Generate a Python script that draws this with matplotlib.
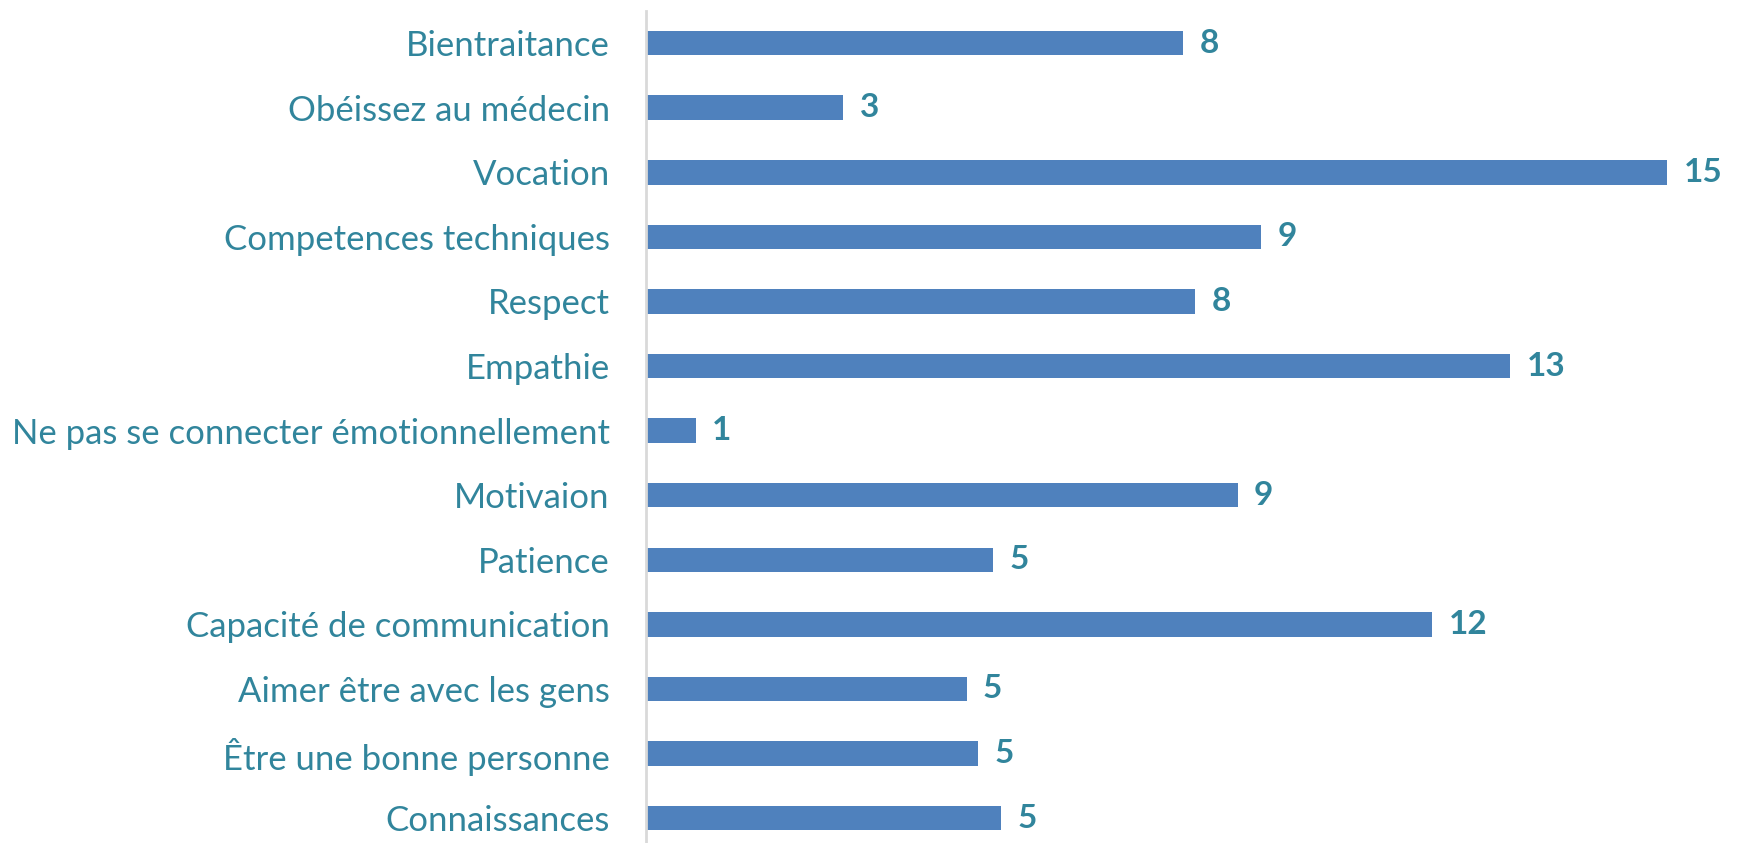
import matplotlib
matplotlib.use("Agg")
import matplotlib.pyplot as plt

# categories top to bottom
categories = ['Bientraitance', 'Obéissez au médecin', 'Vocation', 'Competences techniques',
              'Respect', 'Empathie', 'Ne pas se connecter émotionnellement', 'Motivaion',
              'Patience', 'Capacité de communication', 'Aimer être avec les gens',
              'Être une bonne personne', 'Connaissances']
# printed values
counts = [8, 3, 15, 9, 8, 13, 1, 9, 5, 12, 5, 5, 5]
# bar lengths as drawn in the picture (not exactly proportional to counts)
lengths = [7.89, 2.9, 15, 9.03, 8.07, 12.69, 0.73, 8.69, 5.1, 11.55, 4.71, 4.88, 5.22]

bar_color = '#4F81BD'
text_color = '#31859C'

plt.rcParams['font.family'] = ['Lato', 'DejaVu Sans']

fig = plt.figure(figsize=(17.41, 8.43), dpi=100)
ax = fig.add_axes([0.371, -0.0088, 0.629, 0.9959])

y = list(range(len(categories)))
ax.barh(y, lengths, height=0.38, color=bar_color)

for yi, L, c in zip(y, lengths, counts):
    ax.text(L + 0.24, yi, str(c), va='center', ha='left', fontsize=24,
            fontweight='bold', color=text_color)

ax.set_yticks(y)
ax.set_yticklabels(categories, fontsize=25, color=text_color)
ax.tick_params(axis='y', length=0, pad=26)
ax.set_xticks([])
ax.set_xlim(0, 16.08)
ax.set_ylim(12.5, -0.5)

for s in ['top', 'right', 'bottom']:
    ax.spines[s].set_visible(False)
ax.spines['left'].set_color('#D9D9D9')
ax.spines['left'].set_linewidth(2)

fig.savefig('out.png', dpi=100)
